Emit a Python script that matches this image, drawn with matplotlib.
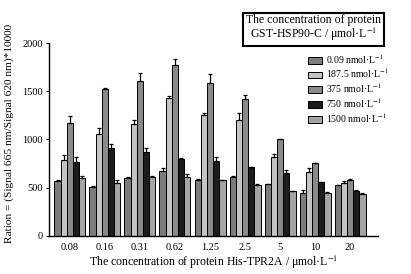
import matplotlib
matplotlib.use("Agg")
import matplotlib.pyplot as plt
import numpy as np

plt.rcParams['font.family'] = ['Liberation Serif', 'DejaVu Serif']
plt.rcParams['mathtext.fontset'] = 'stix'

categories = ["0.08", "0.16", "0.31", "0.62", "1.25", "2.5", "5", "10", "20"]
series_labels = ["0.09 nmol·L$^{-1}$", "187.5 nmol·L$^{-1}$", "375 nmol·L$^{-1}$",
                 "750 nmol·L$^{-1}$", "1500 nmol·L$^{-1}$"]
s_009 = [568, 510, 600, 669, 579, 610, 534, 448, 527]
s_1875 = [783, 1053, 1164, 1430, 1250, 1198, 817, 662, 548]
s_375 = [1174, 1520, 1606, 1776, 1589, 1423, 1001, 755, 579]
s_750 = [766, 911, 866, 797, 773, 711, 656, 555, 469]
s_1500 = [600, 552, 607, 607, 576, 531, 462, 448, 431]
e_009 = [12, 10, 6, 40, 6, 8, 8, 25, 6]
e_1875 = [52, 69, 41, 20, 28, 76, 36, 45, 21]
e_375 = [69, 17, 83, 55, 89, 42, 6, 6, 10]
e_750 = [52, 45, 49, 8, 49, 6, 31, 6, 6]
e_1500 = [20, 23, 17, 31, 6, 6, 6, 6, 10]

values = [s_009, s_1875, s_375, s_750, s_1500]
errors = [e_009, e_1875, e_375, e_750, e_1500]
colors = ["#7c7c7c", "#c4c4c4", "#8a8a8a", "#1c1c1c", "#a4a4a4"]

fig = plt.figure(figsize=(4.11, 2.74), dpi=100)
ax = fig.add_axes([0.119, 0.139, 0.801, 0.704])

x = np.arange(len(categories))
w = 0.177
handles = []
for i, (v, e, c) in enumerate(zip(values, errors, colors)):
    pos = x + (i - 2) * w
    b = ax.bar(pos, v, width=w, color=c, edgecolor="black", linewidth=0.7,
               label=series_labels[i], zorder=2)
    ax.errorbar(pos, v, yerr=[np.zeros(len(e)), e], fmt="none", ecolor="black",
                elinewidth=0.9, capsize=1.6, capthick=0.9, zorder=3)
    handles.append(b)

ax.set_xlim(-0.6, 8.8)
ax.set_ylim(0, 2000)
ax.set_yticks([0, 500, 1000, 1500, 2000])
ax.set_xticks(x)
ax.set_xticklabels(categories)
ax.tick_params(axis="x", length=0, labelsize=7.5, pad=5)
ax.tick_params(axis="y", length=2.5, width=0.8, labelsize=7.5, pad=2)
for s in ["top", "right"]:
    ax.spines[s].set_visible(False)
for s in ["left", "bottom"]:
    ax.spines[s].set_linewidth(1.0)

ax.set_xlabel("The concentration of protein His-TPR2A / μmol·L$^{-1}$", fontsize=8.5, labelpad=1)
ax.set_ylabel("Ration = (Signal 665 nm/Signal 620 nm)*10000", fontsize=8.2)
ax.yaxis.set_label_coords(-0.105, 0.53)

fig.text(0.762, 0.895, "The concentration of protein\nGST-HSP90-C / μmol·L$^{-1}$",
         ha="center", va="center", fontsize=8.5, linespacing=1.0,
         bbox=dict(boxstyle="square,pad=0.25", facecolor="white", edgecolor="black", linewidth=1.5))

leg = ax.legend(handles=handles, loc="upper left", bbox_to_anchor=(0.733, 0.835),
                bbox_transform=fig.transFigure, frameon=False, fontsize=7,
                handlelength=1.4, handleheight=0.7, handletextpad=0.4,
                labelspacing=0.12, borderpad=0.2)

fig.savefig("out.png", dpi=100)
